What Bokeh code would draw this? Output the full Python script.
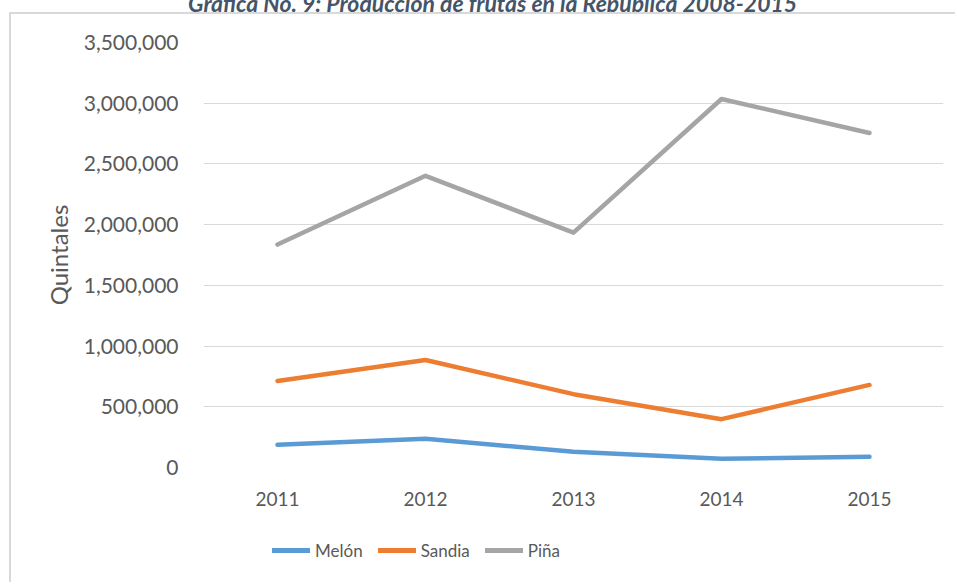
from bokeh.plotting import figure
from bokeh.layouts import column
from bokeh.models import (Range1d, FactorRange, NumeralTickFormatter, FixedTicker,
                          Legend, LegendItem, Div)
from bokeh.embed import file_html
from bokeh.resources import INLINE

# ---- data ----
years = ["2011", "2012", "2013", "2014", "2015"]
melon = [187000, 236000, 129000, 72000, 88000]
sandia = [713000, 885000, 604000, 398000, 680000]
pina = [1836000, 2402000, 1934000, 3035000, 2755000]
series_names = ["Melón", "Sandia", "Piña"]
series_colors = ["#5B9BD5", "#ED7D31", "#A5A5A5"]
y_ticks = [0, 500000, 1000000, 1500000, 2000000, 2500000, 3000000, 3500000]
title_text = "Grafica No. 9: Producción de frutas en la República 2008-2015"
y_title = "Quintales"

FONT = "Lato"
TXT = "#595959"
BORDER = "2px solid #D9D9D9"

# ---- title (cut off at the top edge, as in the reference) ----
title_html = ('<div style="margin-top:-12px;margin-left:188px;white-space:nowrap;'
              'font-family:Lato;font-weight:bold;font-style:italic;font-size:23px;'
              'line-height:23px;color:#44546A">' + title_text + '</div>')
title_div = Div(text=title_html, width=957, height=12, margin=0,
                styles={"overflow": "hidden"})

# ---- main chart ----
p = figure(width=946, height=513,
           x_range=FactorRange(*years, range_padding=0),
           y_range=Range1d(y_ticks[0], y_ticks[-1]),
           output_backend="svg", toolbar_location=None,
           min_border_left=192, min_border_right=14,
           min_border_top=28, min_border_bottom=60,
           margin=(0, 0, 0, 9))
p.styles = {"border-top": BORDER, "border-left": BORDER}
p.outline_line_color = None
p.background_fill_color = "white"
p.border_fill_color = "white"

p.xgrid.grid_line_color = None
p.ygrid.ticker = FixedTicker(ticks=y_ticks)
p.ygrid.grid_line_color = "#D9D9D9"
p.ygrid.grid_line_width = 1

p.yaxis.ticker = FixedTicker(ticks=y_ticks)
p.yaxis.formatter = NumeralTickFormatter(format="0,0")
p.yaxis.axis_line_color = None
p.yaxis.major_tick_line_color = None
p.yaxis.minor_tick_line_color = None
p.yaxis.major_label_standoff = 19
p.yaxis.major_label_text_font = FONT
p.yaxis.major_label_text_font_size = "21px"
p.yaxis.major_label_text_color = TXT
p.yaxis.axis_label = y_title
p.yaxis.axis_label_text_font = FONT
p.yaxis.axis_label_text_font_size = "24px"
p.yaxis.axis_label_text_font_style = "normal"
p.yaxis.axis_label_text_color = TXT
p.yaxis.axis_label_standoff = 8

p.xaxis.axis_line_color = None
p.xaxis.major_tick_line_color = None
p.xaxis.minor_tick_line_color = None
p.xaxis.major_label_standoff = 18
p.xaxis.major_label_text_font = FONT
p.xaxis.major_label_text_font_size = "19px"
p.xaxis.major_label_text_color = TXT

series = [melon, sandia, pina]
for vals, col in zip(series, series_colors):
    p.line(x=years, y=vals, line_width=4.5, line_color=col,
           line_cap="round", line_join="round")

# ---- legend strip (continues the chart's left border) ----
leg = figure(width=946, height=57,
             x_range=FactorRange(*years, range_padding=0), y_range=Range1d(-2, -1),
             x_axis_type=None, y_axis_type=None,
             output_backend="svg", toolbar_location=None,
             min_border_left=192, min_border_right=14, min_border_top=0,
             min_border_bottom=0, margin=(0, 0, 0, 9))
leg.styles = {"border-left": BORDER}
leg.outline_line_color = None
leg.xgrid.grid_line_color = None
leg.ygrid.grid_line_color = None
keys = []
for vals, col in zip(series, series_colors):
    # same series, outside this strip's visible range: only the legend key shows
    keys.append(leg.line(x=years, y=vals, line_width=5, line_color=col, line_cap="round"))
legend = Legend(items=[LegendItem(label=n, renderers=[r]) for n, r in zip(series_names, keys)],
                orientation="horizontal", location=(69, 20),
                padding=0, margin=0, spacing=15, glyph_width=38, glyph_height=24,
                label_height=24, label_standoff=5,
                border_line_color=None, background_fill_alpha=0,
                label_text_font=FONT, label_text_font_size="17px", label_text_color=TXT)
leg.add_layout(legend, "center")

layout = column(title_div, p, leg, spacing=0)
open("out.html", "w").write(file_html(layout, INLINE))
